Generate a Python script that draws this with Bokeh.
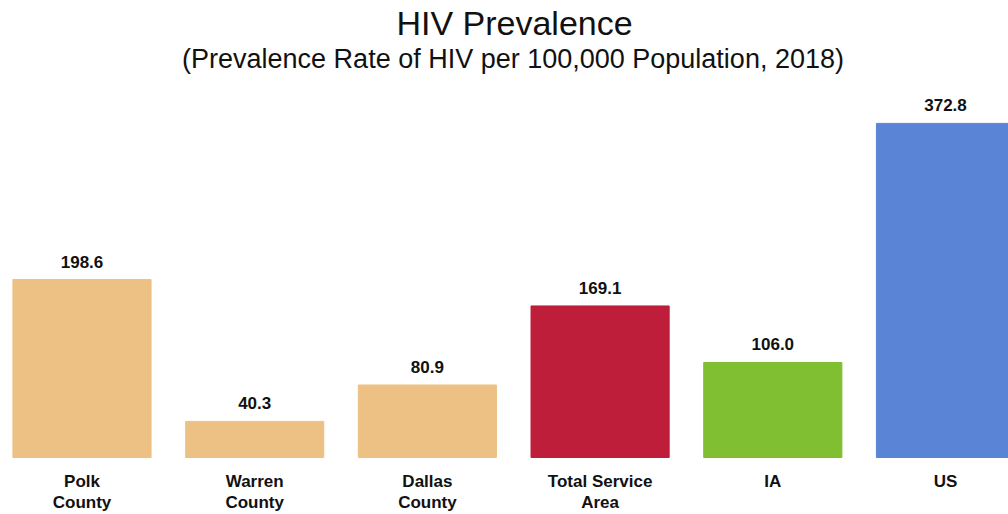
from bokeh.plotting import figure
from bokeh.models import Range1d, ColumnDataSource, Label
from bokeh.core.properties import value
from bokeh.embed import file_html
from bokeh.resources import INLINE

categories = ["Polk County", "Warren County", "Dallas County", "Total Service Area", "IA", "US"]
tick_labels = ["Polk\nCounty", "Warren\nCounty", "Dallas\nCounty", "Total Service\nArea", "IA", "US"]
rates = [198.6, 40.3, 80.9, 169.1, 106.0, 372.8]
bar_colors = ["#EDC184", "#EDC184", "#EDC184", "#BE1E3A", "#80BE32", "#5A85D6"]
title_text = "HIV Prevalence"
subtitle_text = "(Prevalence Rate of HIV per 100,000 Population, 2018)"

xs = list(range(len(categories)))
line1 = [t.split("\n")[0] for t in tick_labels]
line2 = [t.split("\n")[1] if "\n" in t else "" for t in tick_labels]

src = ColumnDataSource(dict(x=xs, top=rates, color=bar_colors,
                            label=[f"{v:.1f}" for v in rates],
                            l1=line1, l2=line2, zero=[0] * len(xs)))

W, H = 1008, 514
p = figure(width=W, height=H, output_backend="svg", toolbar_location=None,
           x_range=Range1d(-0.4719, 5.3648), y_range=Range1d(-63.6, 509.9),
           min_border=0, min_border_left=0, min_border_right=0,
           min_border_top=0, min_border_bottom=0)
p.axis.visible = False
p.grid.visible = False
p.outline_line_color = None
p.background_fill_color = "white"
p.border_fill_color = "white"

p.vbar(x="x", top="top", bottom=0, width=0.8, color="color", source=src)

sans = value("Liberation Sans")
p.text(x="x", y="top", text="label", source=src, text_align="center",
       text_baseline="alphabetic", y_offset=-18, text_font=sans,
       text_font_style="bold", text_font_size="17px", text_color="#111111")
p.text(x="x", y="zero", text="l1", source=src, text_align="center",
       text_baseline="alphabetic", y_offset=24, text_font=sans,
       text_font_style="bold", text_font_size="17px", text_color="#111111")
p.text(x="x", y="zero", text="l2", source=src, text_align="center",
       text_baseline="alphabetic", y_offset=45, text_font=sans,
       text_font_style="bold", text_font_size="17px", text_color="#111111")

p.add_layout(Label(x=514, y=492, x_units="screen", y_units="screen", text=title_text,
                   text_align="center", text_baseline="alphabetic",
                   text_font="Liberation Sans", text_font_size="34px", text_color="#111111"))
p.add_layout(Label(x=512.5, y=455.5, x_units="screen", y_units="screen", text=subtitle_text,
                   text_align="center", text_baseline="alphabetic",
                   text_font="Liberation Sans", text_font_size="27px", text_color="#111111"))

open("out.html", "w").write(file_html(p, INLINE))
